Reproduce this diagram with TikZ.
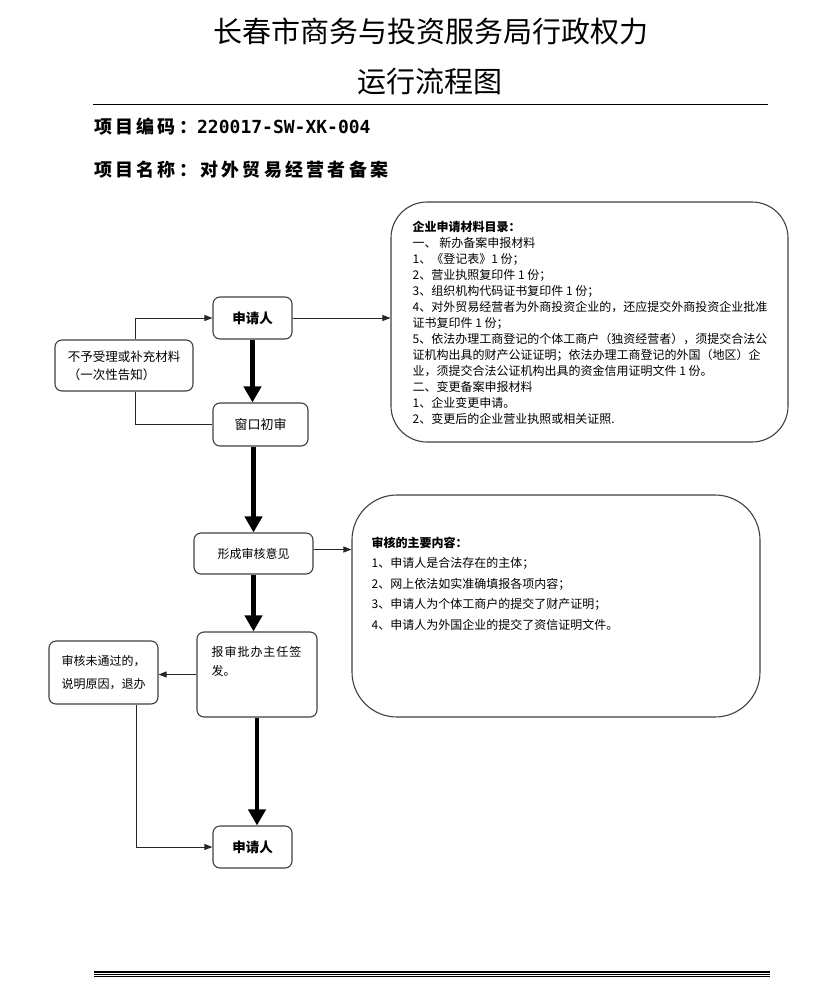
\documentclass[tikz,border=0pt]{standalone}
\usepackage{fontspec}
\setmainfont{Noto Sans CJK SC}
\newfontfamily\codefont{DejaVu Sans Mono}
\usetikzlibrary{arrows.meta,positioning}

\begin{document}
\begin{tikzpicture}[x=1pt, y=-1pt,
		box/.style={
			rectangle, rounded corners=7pt, draw=black!75, line width=1.1pt,
			fill=white, font=\fontsize{12}{16}\selectfont
		},
		bigbox/.style={rectangle, draw=black!75, line width=1.1pt, fill=white},
		boxtext/.style={anchor=north west, inner sep=0pt, align=left},
		flow/.style={-{Triangle[width=17pt,length=16pt]}, line width=4.5pt},
		link/.style={line width=0.9pt, draw=black!85},
		linkarrow/.style={link, -{Triangle[width=6pt,length=8pt]}}
	]
	\useasboundingbox (0,0) rectangle (823,993);

	% titel
	\node[font=\fontsize{29}{29}\selectfont] (title1) at (431,31) {长春市商务与投资服务局行政权力};
	\node[font=\fontsize{29}{29}\selectfont] (title2) at (430,82) {运行流程图};
	\draw[line width=1pt] (93,104) -- (768,104);

	\node[anchor=west, inner sep=0pt, font=\fontsize{18}{18}\selectfont\bfseries] (code) at (94,127)
		{\addfontfeature{LetterSpace=18}项目编码：{\codefont 220017-SW-XK-004}};
	\node[anchor=west, inner sep=0pt, font=\fontsize{18}{18}\selectfont\bfseries] (name) at (94,170)
		{\addfontfeature{LetterSpace=18}项目名称：对外贸易经营者备案};

	% flow boxes
	\node[box, minimum width=79pt, minimum height=42pt, font=\fontsize{13.5}{16}\selectfont\bfseries]
		(app1) at (252.5,318) {申请人};
	\node[box, minimum width=138pt, minimum height=51pt, align=left, font=\fontsize{12.5}{18}\selectfont]
		(reject) at (124,365.5) {不予受理或补充材料\\（一次性告知）};
	\node[box, minimum width=95pt, minimum height=43pt, font=\fontsize{13}{16}\selectfont]
		(win) at (260.5,424.5) {窗口初审};
	\node[box, minimum width=119pt, minimum height=41pt]
		(form) at (253.5,553.5) {形成审核意见};
	\node[box, minimum width=120pt, minimum height=85pt] (sign) at (257,674.5) {};
	\node[boxtext, font=\fontsize{12}{19}\selectfont] (signtext) at ([shift={(15,15)}]sign.north west)
		{\addfontfeature{LetterSpace=8}报审批办主任签\\发。};
	\node[box, minimum width=109pt, minimum height=63pt, align=left, font=\fontsize{12}{23}\selectfont]
		(notpass) at (103.5,672.5) {审核未通过的，\\说明原因，退办};
	\node[box, minimum width=79pt, minimum height=42pt, font=\fontsize{13.5}{16}\selectfont\bfseries]
		(app2) at (252.5,847) {申请人};

	% side boxes
	\node[bigbox, rounded corners=36pt, minimum width=397pt, minimum height=240pt] (list) at (589.5,322) {};
	\node[boxtext, font=\fontsize{12}{16}\selectfont] (listtext) at ([shift={(22,19)}]list.north west) {
		{\bfseries 企业申请材料目录：}\\
		一、\ 新办备案申报材料\\
		1、《登记表》1 份；\\
		2、营业执照复印件 1 份；\\
		3、组织机构代码证书复印件 1 份；\\
		4、对外贸易经营者为外商投资企业的，还应提交外商投资企业批准\\
		证书复印件 1 份；\\
		5、依法办理工商登记的个体工商户（独资经营者），须提交合法公\\
		证机构出具的财产公证证明；依法办理工商登记的外国（地区）企\\
		业，须提交合法公证机构出具的资金信用证明文件 1 份。\\
		二、变更备案申报材料\\
		1、企业变更申请。\\
		2、变更后的企业营业执照或相关证照.};
	\node[bigbox, rounded corners=45pt, minimum width=408pt, minimum height=222pt] (review) at (556,606) {};
	\node[boxtext, font=\fontsize{12}{20.5}\selectfont] (reviewtext) at ([shift={(20,42)}]review.north west) {
		{\bfseries 审核的主要内容：}\\
		1、申请人是合法存在的主体；\\
		2、网上依法如实准确填报各项内容；\\
		3、申请人为个体工商户的提交了财产证明；\\
		4、申请人为外国企业的提交了资信证明文件。};

	% connectors
	\draw[flow] (app1.south) -- (app1.south |- win.north);
	\draw[flow] (win.south -| form.north) -- (form.north);
	\draw[flow] (form.south) -- (form.south |- sign.north);
	\draw[flow] (sign.south) -- (sign.south |- app2.north);

	\draw[linkarrow] (app1.east) -- (app1.east -| list.west);
	\draw[linkarrow] ([xshift=11pt]reject.north) |- (app1.west);
	\draw[link] (win.west) -| ([xshift=11pt]reject.south);
	\draw[linkarrow] ([yshift=4pt]form.east) -- ([yshift=4pt]form.east -| review.west);
	\draw[linkarrow] (sign.west) -- (sign.west -| notpass.east);
	\draw[linkarrow] ([xshift=32.5pt]notpass.south) |- (app2.west);

	% bottom rule
	\foreach \y in {971,972.8,974.6,976.4} {
			\draw[line width=0.9pt] (94,\y) -- (770,\y);
		}
\end{tikzpicture}
\end{document}
